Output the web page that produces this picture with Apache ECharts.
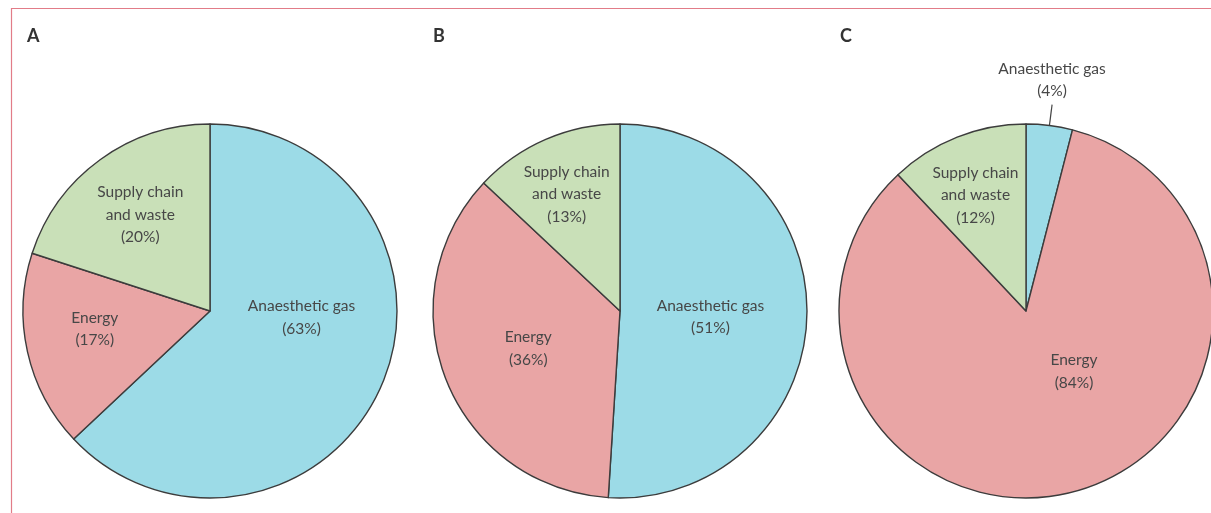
<!DOCTYPE html>
<html>
<head>
<meta charset="utf-8">
<script src="https://cdn.jsdelivr.net/npm/echarts@6/dist/echarts.min.js"></script>
<style>
html,body{margin:0;padding:0;background:#fff;}
#chart{width:1211px;height:513px;}
</style>
</head>
<body>
<div id="chart"></div>
<script>
// ---- data ----
var panelLabels = ['A', 'B', 'C'];
var categories = ['Anaesthetic gas', 'Energy', 'Supply chain and waste'];
var valuesA = [63, 17, 20];
var valuesB = [51, 36, 13];
var valuesC = [4, 84, 12];

// ---- styling ----
var colors = ['#9cdbe7', '#e9a5a5', '#c9e0b8'];
var centersX = [210, 620, 1026];
var centerY = 311;
var radius = 187;
var panelLabelLeft = [27, 433, 840];
// fine label nudges (px) relative to the library's inside label placement
var labelNudges = [
  [[3, -32], [-21, -3], [-13, -18]],
  [[-6, 3], [-2, 2], [-15, -28]],
  [[0, 0], [24, -33], [-15, -26]]
];
// which labels sit outside the pie with a leader line
var outsideLabels = [[], [], [0]];

var allValues = [valuesA, valuesB, valuesC];
var textColor = '#474747';
var fontFamily = 'Lato, "Open Sans", sans-serif';

function wrapName(n) { return n.replace(' and ', '\nand '); }

var series = allValues.map(function (vals, si) {
  return {
    type: 'pie',
    center: [centersX[si], centerY],
    radius: [0, radius],
    startAngle: 90,
    clockwise: true,
    avoidLabelOverlap: false,
    animation: false,
    silent: true,
    emphasis: { disabled: true },
    itemStyle: { borderColor: '#3c3c3c', borderWidth: 1.4 },
    label: {
      show: true,
      position: 'inside',
      color: textColor,
      fontFamily: fontFamily,
      fontSize: 15.5,
      lineHeight: 22.5,
      align: 'center',
      formatter: function (p) { return wrapName(p.name) + '\n(' + p.value + '%)'; }
    },
    labelLine: { show: false },
    labelLayout: function (p) {
      var isOut = outsideLabels[si].indexOf(p.dataIndex) >= 0;
      if (isOut && p.labelLinePoints) {
        var pts = p.labelLinePoints;
        return {
          x: pts[1][0],
          y: pts[1][1] - 2,
          align: 'center',
          verticalAlign: 'bottom',
          labelLinePoints: [pts[0], pts[1]]
        };
      }
      var n = labelNudges[si][p.dataIndex];
      return { dx: n[0], dy: n[1] };
    },
    data: vals.map(function (v, i) {
      var item = { name: categories[i], value: v, itemStyle: { color: colors[i] } };
      if (outsideLabels[si].indexOf(i) >= 0) {
        item.label = { position: 'outside', distanceToLabelLine: 0 };
        item.labelLine = { show: true, length: 21, length2: 0, smooth: false,
          lineStyle: { color: '#444', width: 1.2 } };
      }
      return item;
    })
  };
});

var chart = echarts.init(document.getElementById('chart'), null, { renderer: 'canvas' });
chart.setOption({
  backgroundColor: '#ffffff',
  animation: false,
  title: panelLabels.map(function (t, i) {
    return {
      text: t,
      left: panelLabelLeft[i],
      top: 27,
      padding: 0,
      textStyle: { fontFamily: 'Lato, sans-serif', fontWeight: 'bold', fontSize: 18, color: '#333' }
    };
  }),
  graphic: [{
    type: 'polyline',
    silent: true,
    shape: { points: [[11.5, 513], [11.5, 8.5], [1211, 8.5]] },
    style: { stroke: '#e27c88', lineWidth: 1.2, fill: null }
  }],
  series: series
});
</script>
</body>
</html>
